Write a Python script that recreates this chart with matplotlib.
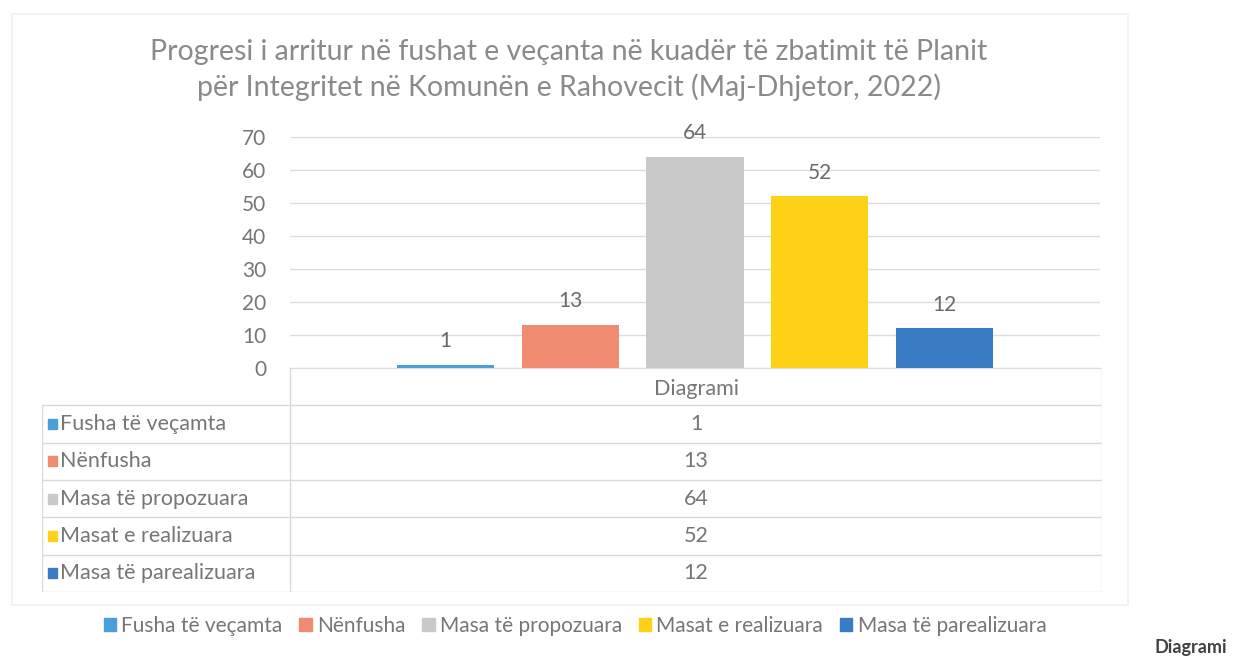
import matplotlib
matplotlib.use("Agg")
import matplotlib.pyplot as plt
from matplotlib.patches import Patch, Rectangle
import numpy as np

# chart data
series = ["Fusha të veçamta", "Nënfusha", "Masa të propozuara",
          "Masat e realizuara", "Masa të parealizuara"]
values = [1, 13, 64, 52, 12]
colors = ["#4a9fd8", "#f08a70", "#c9c9c9", "#fcd116", "#3a7cc3"]
category = "Diagrami"
yticks = [0, 10, 20, 30, 40, 50, 60, 70]
title = ("Progresi i arritur në fushat e veçanta në kuadër të zbatimit të Planit\n"
         "për Integritet në Komunën e Rahovecit (Maj-Dhjetor, 2022)")

W, H = 1246, 658
plt.rcParams["font.family"] = ["Lato", "DejaVu Sans"]
txt = "#767676"
grid = "#dcdcdc"

fig = plt.figure(figsize=(W / 100, H / 100), dpi=100)
fig.patch.set_facecolor("white")

# faint outer frame of the chart
fig.patches.append(Rectangle((12 / W, 1 - 605 / H), (1128 - 12) / W, (605 - 14) / H,
                             transform=fig.transFigure, fill=False,
                             edgecolor="#f0f0f0", lw=1.2))

fig.text(569 / W, 1 - 70 / H, title, ha="center", va="center",
         fontsize=20.5, color="#8a8a8a", linespacing=1.34)

# bar area
ax = fig.add_axes([290 / W, 1 - 368 / H, (1100 - 290) / W, (368 - 137) / H])
x = np.arange(len(values))
ax.bar(x, values, width=0.78, color=colors, zorder=3)
for xi, v in zip(x, values):
    ax.annotate(str(v), (xi, v), xytext=(0, 17), textcoords="offset points",
                ha="center", va="center", fontsize=15, color="#6a6a6a")
ax.set_xlim(-1.25, 5.25)
ax.set_ylim(0, 70)
ax.set_yticks(yticks)
ax.set_xticks([])
ax.grid(axis="y", color=grid, lw=1, zorder=0)
for s in ["top", "right", "left"]:
    ax.spines[s].set_visible(False)
ax.spines["bottom"].set_color(grid)
ax.tick_params(axis="y", length=0, pad=17, labelsize=15, labelcolor=txt)

# data table under the bars
tax = fig.add_axes([42 / W, 1 - 592 / H, (1102 - 42) / W, (592 - 368) / H])
tax.set_xlim(0, 1060)
tax.set_ylim(len(series) + 1, 0)
tax.axis("off")
lc = "#d9d9d9"
tax.plot([248, 248], [0, 6], color=lc, lw=1)
tax.plot([1060, 1060], [0, 6], color=lc, lw=1)
tax.plot([0, 0], [1, 6], color=lc, lw=1)
for r in range(1, len(series) + 2):
    tax.plot([0, 1060], [r, r], color=lc, lw=1)
tax.text(654, 0.55, category, ha="center", va="center", fontsize=15.5, color=txt)
for i, (name, v, c) in enumerate(zip(series, values, colors)):
    yc = i + 1.5
    tax.add_patch(Rectangle((6, yc - 0.13), 9, 0.26, color=c))
    tax.text(18, yc, name, ha="left", va="center", fontsize=15.5, color=txt)
    tax.text(654, yc, str(v), ha="center", va="center", fontsize=15.5, color=txt)

# legend at the bottom
handles = [Patch(color=c, label=s) for s, c in zip(series, colors)]
fig.legend(handles=handles, loc="center", bbox_to_anchor=(575 / W, 1 - 626 / H),
           ncol=5, frameon=False, fontsize=15, labelcolor=txt,
           handlelength=0.6, handleheight=0.6, handletextpad=0.25,
           columnspacing=0.8)

# caption near the page edge
fig.text(1155 / W, 1 - 648 / H, "Diagrami", ha="left", va="center",
         fontsize=13, fontweight="bold", color="#404040")

fig.savefig("out.png", dpi=100)
